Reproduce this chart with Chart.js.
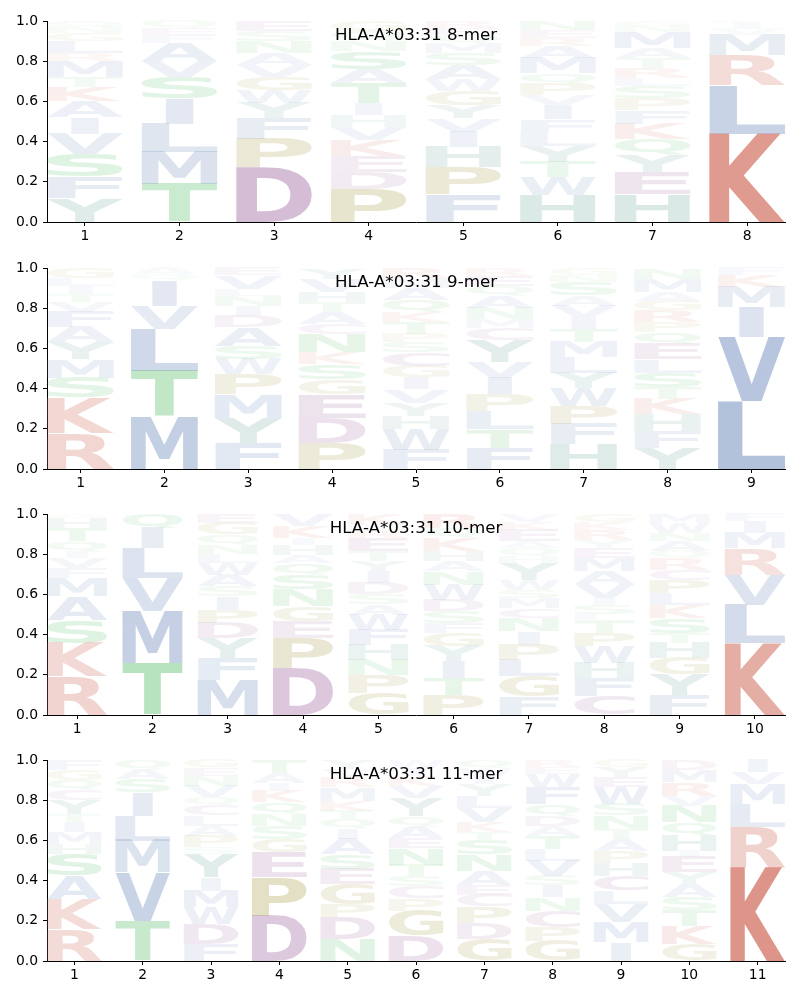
<!DOCTYPE html>
<html><head><meta charset="utf-8">
<script src="https://cdn.jsdelivr.net/npm/chart.js@4"></script>
<style>
body{margin:0;background:#fff;width:800px;height:1000px;position:relative;overflow:hidden;}
canvas{position:absolute;left:0;}
</style>
</head><body>
<canvas id="c8" width="800" height="246" style="top:0px"></canvas>
<canvas id="c9" width="800" height="246" style="top:247px"></canvas>
<canvas id="c10" width="800" height="246" style="top:493px"></canvas>
<canvas id="c11" width="800" height="246" style="top:739px"></canvas>
<script>
// ---------------- DATA (letters listed bottom -> top, heights = frequencies) ----------------
const allele = "HLA-A*03:31";
const yTicks = [0, 0.2, 0.4, 0.6, 0.8, 1.0];

const letters8 = ["YFSVIAKTMRLGNQ","TMLISVAFEQ","DPFYWGVANSE","PDEKVHITASNQG","FPHIVYGWASMQER","HWTYLFIVPQMAREN","HEYQKFPSLRTAMNG","KLRMVIF"];
const heights8 = [
  [.12,.105,.115,.10,.08,.08,.07,.05,.08,.04,.06,.04,.03,.03],
  [.19,.16,.14,.125,.105,.08,.09,.04,.035,.035],
  [.275,.14,.10,.075,.065,.065,.06,.06,.06,.05,.05],
  [.165,.085,.08,.08,.065,.055,.06,.10,.07,.09,.05,.05,.05],
  [.14,.135,.10,.075,.065,.065,.07,.06,.07,.06,.05,.04,.035,.035],
  [.135,.09,.075,.08,.065,.065,.07,.05,.06,.05,.075,.06,.04,.04,.045],
  [.14,.11,.085,.08,.075,.065,.06,.06,.04,.05,.05,.05,.08,.03,.025],
  [.44,.24,.15,.10,.03,.03,.01]
];
const xTicks8 = [1,2,3,4,5,6,7,8];

const letters9 = ["RKSMYAFVTILG","MTLVIQA","FYMPWSADINLVE","PDEGSKNCATHVY","FWHYVIGCSPTKQAMR","FTLPIVYCMNAQER","HFPWYLMTIVASNG","YFHKTSLEQPRGAMN","LVIMKF"];
const heights9 = [
  [.18,.175,.10,.092,.083,.075,.075,.05,.04,.04,.04,.05],
  [.263,.225,.209,.116,.125,.032,.03],
  [.13,.125,.117,.10,.075,.066,.092,.058,.05,.05,.034,.066,.037],
  [.13,.125,.117,.075,.075,.058,.092,.05,.058,.05,.05,.067,.053],
  [.097,.10,.066,.067,.067,.058,.058,.067,.05,.042,.058,.05,.06,.06,.05,.05],
  [.105,.092,.091,.084,.083,.075,.11,.06,.045,.055,.06,.05,.05,.04],
  [.122,.10,.091,.092,.075,.075,.075,.067,.058,.058,.05,.067,.035,.035],
  [.105,.083,.084,.075,.058,.075,.067,.075,.058,.05,.058,.05,.042,.067,.053],
  [.338,.317,.15,.10,.058,.037]
];
const xTicks9 = [1,2,3,4,5,6,7,8,9];

const letters10 = ["RKSAMFVIQTHG","TMVLIQ","MFYDPISAWLNQGE","DPEGNSQAHIKV","GPNHFWASDIYTERMK","PTIYGFSDWNAHKQR","FGLPINCMSWYHQAEKV","CFHWPTLSIVAMEYRKG","FYGHTSKLPCRQANWM","KLVRMIF"];
const heights10 = [
  [.192,.166,.116,.116,.09,.05,.05,.035,.049,.066,.05,.02],
  [.259,.257,.164,.15,.10,.07],
  [.176,.108,.099,.075,.066,.066,.05,.058,.058,.044,.047,.05,.058,.045],
  [.234,.149,.083,.074,.084,.074,.058,.041,.05,.033,.06,.06],
  [.11,.09,.075,.075,.075,.075,.05,.05,.057,.058,.05,.05,.065,.04,.03,.05],
  [.10,.084,.083,.075,.066,.05,.058,.058,.074,.067,.05,.049,.066,.05,.07],
  [.093,.099,.083,.075,.066,.067,.049,.05,.042,.049,.083,.034,.04,.035,.055,.04,.04],
  [.093,.091,.075,.083,.066,.058,.034,.049,.033,.068,.065,.065,.05,.04,.05,.04,.04],
  [.10,.10,.084,.074,.05,.075,.066,.058,.066,.05,.057,.035,.049,.041,.05,.045],
  [.358,.191,.149,.132,.075,.058,.037]
];
const xTicks10 = [1,2,3,4,5,6,7,8,9,10];

const letters11 = ["RKASHMITYCQGF","TVMLISAQ","FDWMIYSPALCQVNEG","DPEGSNQKIAT","NDPGESAIQTKMRVY","DGPCSTNEAQYVKIW","GDPCEANSTKVLYIWQ","GPCNISVLTADQFWER","IMVLCHPATNSWEYG","GKTSAYEIHQNVRMD","KRLMVI"];
const heights11 = [
  [.159,.149,.117,.107,.05,.058,.05,.04,.07,.05,.05,.05,.05],
  [.20,.241,.158,.124,.116,.066,.05,.045],
  [.085,.099,.083,.083,.066,.116,.033,.059,.049,.05,.05,.042,.057,.05,.04,.038],
  [.226,.19,.124,.067,.066,.058,.058,.058,.04,.05,.063],
  [.11,.107,.067,.099,.075,.074,.075,.05,.049,.042,.05,.066,.05,.04,.046],
  [.126,.124,.06,.06,.05,.06,.08,.05,.06,.05,.09,.06,.05,.04,.04],
  [.11,.08,.08,.06,.05,.07,.08,.07,.04,.05,.07,.06,.06,.04,.04,.04],
  [.10,.068,.082,.067,.058,.05,.075,.057,.067,.049,.05,.057,.084,.066,.035,.035],
  [.093,.099,.092,.066,.075,.065,.059,.058,.05,.066,.057,.084,.05,.049,.037],
  [.085,.091,.074,.067,.066,.058,.075,.033,.075,.066,.083,.049,.067,.06,.051],
  [.466,.199,.116,.099,.059,.061]
];
const xTicks11 = [1,2,3,4,5,6,7,8,9,10,11];

// ---------------- STYLE ----------------
const groupRGB = {
  red:[209,113,98], blue:[113,142,189], purple:[160,106,160],
  olive:[165,155,70], green:[84,188,100], teal:[88,155,145]
};
const letterGroup = {K:'red',R:'red',L:'blue',M:'blue',V:'blue',I:'blue',F:'blue',W:'blue',A:'blue',
  D:'purple',E:'purple',C:'purple',P:'olive',G:'olive',T:'green',S:'green',N:'green',Q:'green',H:'teal',Y:'teal'};
function letterColor(ch, f){
  const c = groupRGB[letterGroup[ch]] || [128,128,128];
  const a = Math.min(1, f*1.6);
  return `rgba(${c[0]},${c[1]},${c[2]},${a})`;
}
const FONT = '"DejaVu Sans", sans-serif';

const logoPlugin = {
  id: 'logo',
  afterDatasetsDraw(chart){
    const ctx = chart.ctx;
    ctx.save();
    ctx.font = 'bold 200px ' + FONT;
    ctx.textAlign = 'left';
    ctx.textBaseline = 'alphabetic';
    const mE = ctx.measureText('E');
    const eW = mE.actualBoundingBoxLeft + mE.actualBoundingBoxRight;
    chart.data.datasets.forEach((ds, di) => {
      const meta = chart.getDatasetMeta(di);
      meta.data.forEach((bar, i) => {
        const raw = ds.data[i];
        if (!raw || !raw.y) return;
        const ch = ds.letters[i];
        const p = bar.getProps(['x','y','base','width'], true);
        const top = Math.min(p.y, p.base), h = Math.abs(p.base - p.y);
        const m = ctx.measureText(ch);
        const gw = m.actualBoundingBoxLeft + m.actualBoundingBoxRight;
        const gh = m.actualBoundingBoxAscent + m.actualBoundingBoxDescent;
        const sx = p.width / Math.max(gw, eW);
        const drawnW = gw * sx;
        ctx.save();
        ctx.translate(p.x - drawnW/2, top);
        ctx.scale(sx, h/gh);
        ctx.fillStyle = letterColor(ch, raw.y);
        ctx.fillText(ch, m.actualBoundingBoxLeft, m.actualBoundingBoxAscent);
        ctx.restore();
      });
    });
    ctx.restore();
  }
};
const titlePlugin = {
  id: 'innerTitle',
  afterDraw(chart){
    const ctx = chart.ctx, a = chart.chartArea;
    ctx.save();
    ctx.font = '16.7px ' + FONT;
    ctx.fillStyle = '#000';
    ctx.textAlign = 'center';
    ctx.textBaseline = 'middle';
    ctx.fillText(chart.options.plugins.innerTitle.text, (a.left + a.right)/2, a.top + 15);
    ctx.restore();
  }
};

function makeChart(id, k, letters, heights, xTicks){
  const n = letters.length;
  const maxLayers = Math.max(...letters.map(s => s.length));
  const datasets = [];
  for (let L = 0; L < maxLayers; L++){
    datasets.push({
      data: xTicks.map((x, i) => ({x: x, y: L < heights[i].length ? heights[i][L] : null})),
      letters: xTicks.map((x, i) => letters[i][L] || ''),
      backgroundColor: 'rgba(0,0,0,0)',
      borderWidth: 0,
      categoryPercentage: 0.8,
      barPercentage: 1.0
    });
  }
  const tickFont = {family: FONT, size: 13.9};
  new Chart(document.getElementById(id), {
    type: 'bar',
    data: {datasets},
    options: {
      responsive: false, animation: false,
      layout: {padding: {left: 0, right: 15, top: 21, bottom: 0}},
      plugins: {legend: {display: false}, tooltip: {enabled: false},
        innerTitle: {text: allele + ' ' + k + '-mer'}},
      scales: {
        x: {
          type: 'linear', stacked: true, offset: false,
          min: xTicks[0] - 0.4, max: xTicks[n-1] + 0.4,
          afterBuildTicks: s => { s.ticks = xTicks.map(v => ({value: v})); },
          afterFit: s => { s.height = 24; },
          ticks: {font: tickFont, color: '#000', padding: 2, maxRotation: 0, autoSkip: false, callback: v => String(v)},
          grid: {offset: false, drawOnChartArea: false, drawTicks: true, tickLength: 4, color: '#000'},
          border: {display: true, color: '#000', width: 1}
        },
        y: {
          stacked: true, min: 0, max: 1,
          afterBuildTicks: s => { s.ticks = yTicks.map(v => ({value: v})); },
          afterFit: s => { s.width = 47; },
          ticks: {font: tickFont, color: '#000', padding: 5, callback: v => Number(v).toFixed(1)},
          grid: {drawOnChartArea: false, drawTicks: true, tickLength: 4, color: '#000'},
          border: {display: true, color: '#000', width: 1}
        }
      }
    },
    plugins: [logoPlugin, titlePlugin]
  });
}
makeChart('c8', 8, letters8, heights8, xTicks8);
makeChart('c9', 9, letters9, heights9, xTicks9);
makeChart('c10', 10, letters10, heights10, xTicks10);
makeChart('c11', 11, letters11, heights11, xTicks11);
</script>
</body></html>
